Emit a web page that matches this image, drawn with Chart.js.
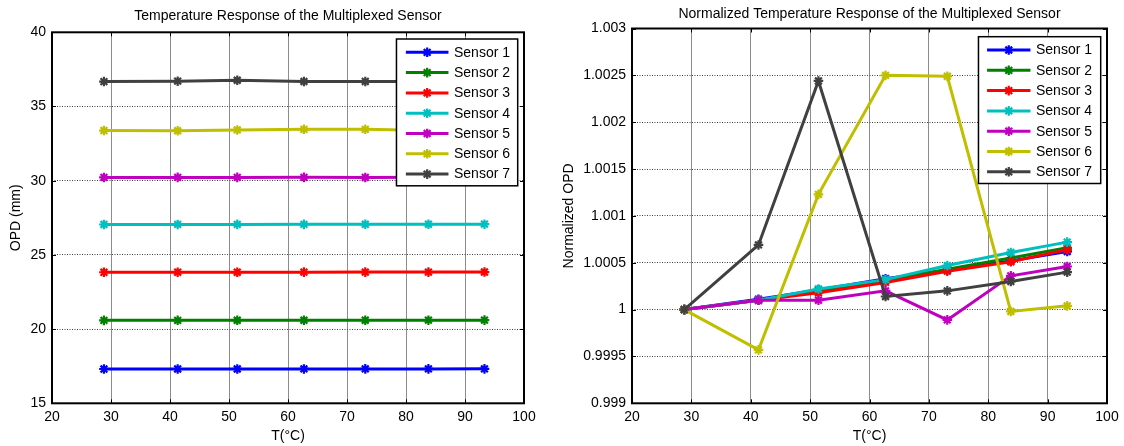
<!DOCTYPE html>
<html><head><meta charset="utf-8">
<script src="https://cdn.jsdelivr.net/npm/chart.js@4.4.1/dist/chart.umd.min.js"></script>
<style>
html,body{margin:0;padding:0;background:#fff;overflow:hidden;}
#wrap{position:relative;width:1124px;height:446px;}
.box{position:absolute;top:0;height:446px;}
</style></head><body>
<div id="wrap">
<div class="box" style="left:0;width:560px"><canvas id="c1"></canvas></div>
<div class="box" style="left:560px;width:564px"><canvas id="c2"></canvas></div>
</div>
<script>
// ---- data ----
const temperatures = [28.8, 41.3, 51.4, 62.7, 73.1, 83.8, 93.3];
const sensorNames = ['Sensor 1','Sensor 2','Sensor 3','Sensor 4','Sensor 5','Sensor 6','Sensor 7'];
const sensorColors = ['#0000ff','#008000','#ff0000','#00bfbf','#bf00bf','#bfbf00','#404040'];

const opdSensor1 = [17.310, 17.312, 17.314, 17.316, 17.317, 17.319, 17.321];
const opdSensor2 = [20.590, 20.592, 20.594, 20.596, 20.599, 20.601, 20.604];
const opdSensor3 = [23.830, 23.832, 23.834, 23.837, 23.840, 23.842, 23.845];
const opdSensor4 = [27.050, 27.053, 27.056, 27.059, 27.063, 27.066, 27.069];
const opdSensor5 = [30.220, 30.223, 30.223, 30.226, 30.217, 30.231, 30.234];
const opdSensor6 = [33.380, 33.366, 33.421, 33.463, 33.463, 33.379, 33.381];
const opdSensor7 = [36.680, 36.705, 36.769, 36.685, 36.687, 36.691, 36.695];

const normSensor1 = [1, 1.00011, 1.00021, 1.00033, 1.00042, 1.00052, 1.00062];
const normSensor2 = [1, 1.00010, 1.00020, 1.00031, 1.00043, 1.00055, 1.00066];
const normSensor3 = [1, 1.00010, 1.00018, 1.00029, 1.00041, 1.00051, 1.00064];
const normSensor4 = [1, 1.00010, 1.00022, 1.00032, 1.00047, 1.00061, 1.00072];
const normSensor5 = [1, 1.00010, 1.00010, 1.00020, 0.99989, 1.00036, 1.00046];
const normSensor6 = [1, 0.99957, 1.00123, 1.00250, 1.00249, 0.99998, 1.00004];
const normSensor7 = [1, 1.00069, 1.00244, 1.00014, 1.00020, 1.00030, 1.00040];

const xTickValues = [20, 30, 40, 50, 60, 70, 80, 90, 100];
const opdTickValues = [15, 20, 25, 30, 35, 40];
const normTickValues = [0.999, 0.9995, 1, 1.0005, 1.001, 1.0015, 1.002, 1.0025, 1.003];

const opdSeries = [opdSensor1, opdSensor2, opdSensor3, opdSensor4, opdSensor5, opdSensor6, opdSensor7];
const normSeries = [normSensor1, normSensor2, normSensor3, normSensor4, normSensor5, normSensor6, normSensor7];

// ---- helpers ----
const FONT = '"Liberation Sans", Arial, Helvetica, sans-serif';

function makeDatasets(series) {
  return series.map((vals, i) => ({
    label: sensorNames[i],
    data: vals.map((v, j) => ({x: temperatures[j], y: v})),
    borderColor: sensorColors[i],
    backgroundColor: sensorColors[i],
    borderWidth: 3,
    pointStyle: 'star',
    pointRadius: 4.8,
    pointBorderWidth: 2.2,
    pointBorderColor: sensorColors[i],
    pointBackgroundColor: sensorColors[i],
    tension: 0,
    order: 6 - i
  }));
}

function drawStar(ctx, x, y, r) {
  ctx.beginPath();
  for (let k = 0; k < 4; k++) {
    const a = k * Math.PI / 4;
    ctx.moveTo(x - r * Math.cos(a), y - r * Math.sin(a));
    ctx.lineTo(x + r * Math.cos(a), y + r * Math.sin(a));
  }
  ctx.stroke();
}

const matlabPlugin = {
  id: 'matlab',
  afterDatasetsDraw(chart, args, o) {
    const {ctx, chartArea: a} = chart;
    const xs = chart.scales.x, ys = chart.scales.y;
    ctx.save();
    // inward tick marks
    ctx.strokeStyle = '#000';
    ctx.lineWidth = 1;
    ctx.beginPath();
    xs.ticks.forEach(t => {
      const p = Math.round(xs.getPixelForValue(t.value)) + 0.5;
      ctx.moveTo(p, a.bottom); ctx.lineTo(p, a.bottom - 4);
      ctx.moveTo(p, a.top); ctx.lineTo(p, a.top + 4);
    });
    ys.ticks.forEach(t => {
      const p = Math.round(ys.getPixelForValue(t.value)) + 0.5;
      ctx.moveTo(a.left, p); ctx.lineTo(a.left + 4, p);
      ctx.moveTo(a.right, p); ctx.lineTo(a.right - 4, p);
    });
    ctx.stroke();
    // frame
    ctx.lineWidth = 2;
    ctx.strokeRect(a.left, a.top, a.right - a.left, a.bottom - a.top);

    // legend box
    ctx.font = '14px ' + FONT;
    const ds = chart.data.datasets;
    let tw = 0;
    ds.forEach(d => { tw = Math.max(tw, ctx.measureText(d.label).width); });
    const padL = o.padL, lineLen = o.lineLen, gap = 5.5, padR = o.padR;
    const w = padL + lineLen + gap + tw + padR;
    const rowH = 20.3, firstRow = 13.3, lastPad = 11.7;
    const h = firstRow + rowH * (ds.length - 1) + lastPad;
    const bx = a.right - o.rightGap - w, by = a.top + o.topGap;
    ctx.fillStyle = '#fff';
    ctx.fillRect(bx, by, w, h);
    ctx.lineWidth = 1.5;
    ctx.strokeStyle = '#000';
    ctx.strokeRect(bx, by, w, h);
    ctx.textBaseline = 'middle';
    ctx.textAlign = 'left';
    ds.forEach((d, i) => {
      const y = by + firstRow + i * rowH;
      const x0 = bx + padL, x1 = x0 + lineLen;
      ctx.strokeStyle = d.borderColor;
      ctx.lineWidth = 3;
      ctx.beginPath(); ctx.moveTo(x0, y); ctx.lineTo(x1, y); ctx.stroke();
      ctx.lineWidth = 2.2;
      drawStar(ctx, (x0 + x1) / 2, y, 4.8);
      ctx.fillStyle = '#000';
      ctx.fillText(d.label, x1 + gap, y + 0.5);
    });

    // title
    ctx.font = o.titleSize + 'px ' + FONT;
    ctx.fillStyle = '#000';
    ctx.textAlign = 'center';
    ctx.textBaseline = 'middle';
    ctx.fillText(o.title, (a.left + a.right) / 2, o.titleY);
    ctx.restore();
  }
};

function makeChart(id, series, yTicks, yMin, yMax, yTitle, cfg) {
  const tickFont = {family: FONT, size: 14};
  return new Chart(document.getElementById(id), {
    type: 'line',
    data: {datasets: makeDatasets(series)},
    plugins: [matlabPlugin],
    options: {
      responsive: true,
      maintainAspectRatio: false,
      animation: false,
      events: [],
      layout: {padding: {top: cfg.top, right: cfg.right, left: 0, bottom: 0}},
      plugins: {
        legend: {display: false},
        title: {display: false},
        tooltip: {enabled: false},
        matlab: cfg.plugin
      },
      scales: {
        x: {
          type: 'linear', min: 20, max: 100,
          afterBuildTicks: s => { s.ticks = xTickValues.map(v => ({value: v})); },
          grid: {color: '#8c8c8c', lineWidth: 1, drawTicks: false},
          border: {display: false},
          ticks: {padding: 5, font: tickFont, color: '#000', maxRotation: 0, autoSkip: false},
          title: {display: true, text: 'T(°C)', font: {family: FONT, size: 14}, color: '#000', padding: {top: 0, bottom: 1}},
          afterFit: s => { s.height = 446 - 403.3; }
        },
        y: {
          type: 'linear', min: yMin, max: yMax,
          afterBuildTicks: s => { s.ticks = yTicks.map(v => ({value: v})); },
          grid: {color: '#404040', lineWidth: 1, drawTicks: false},
          border: {display: false, dash: [1, 1.5]},
          ticks: {padding: 6, font: tickFont, color: '#000', autoSkip: false,
                  callback: v => String(Number(Number(v).toFixed(4)))},
          title: {display: true, text: yTitle, font: {family: FONT, size: 14}, color: '#000', padding: {top: cfg.yTitlePad, bottom: 0}},
          afterFit: s => { s.width = cfg.yWidth; }
        }
      }
    }
  });
}

makeChart('c1', opdSeries, opdTickValues, 15, 40, 'OPD (mm)', {
  top: 32.3, right: 36, yWidth: 52, yTitlePad: 7.5,
  plugin: {title: 'Temperature Response of the Multiplexed Sensor', titleY: 15.7, titleSize: 14,
           padL: 9.4, lineLen: 42.6, padR: 7.7, rightGap: 6.3, topGap: 6.7}
});
makeChart('c2', normSeries, normTickValues, 0.999, 1.003, 'Normalized OPD', {
  top: 28.5, right: 17, yWidth: 72, yTitlePad: 0.5,
  plugin: {title: 'Normalized Temperature Response of the Multiplexed Sensor', titleY: 14.3, titleSize: 14,
           padL: 8.6, lineLen: 43.4, padR: 8.7, rightGap: 6.3, topGap: 8.2}
});
</script>
</body></html>
